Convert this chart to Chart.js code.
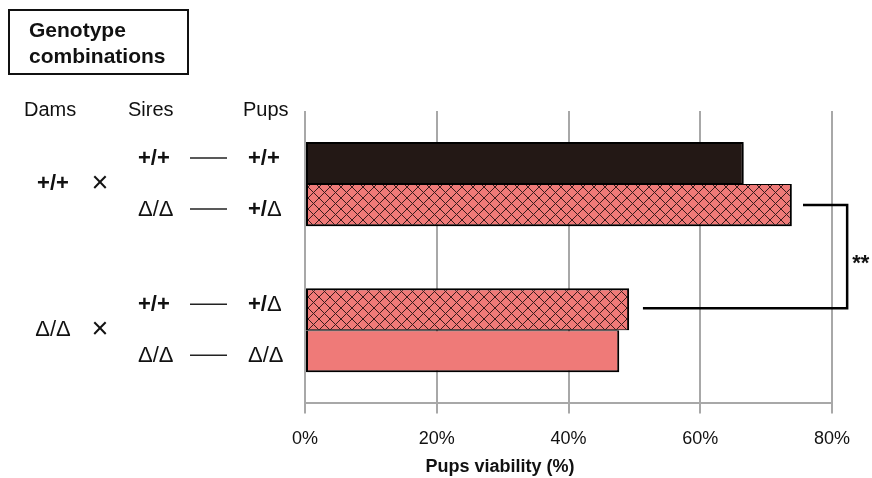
<!DOCTYPE html>
<html>
<head>
<meta charset="utf-8">
<script src="https://cdn.jsdelivr.net/npm/chart.js@4.4.1/dist/chart.umd.min.js"></script>
<style>
  html, body { margin: 0; padding: 0; background: #ffffff; }
  #wrap { width: 872px; height: 478px; position: relative; }
</style>
</head>
<body>
<div id="wrap"><canvas id="chart"></canvas></div>
<script>
// Mating crosses: one category per dam genotype, two sire crosses each
const damGenotypes   = ['+/+', 'Δ/Δ'];
const upperSires     = ['+/+', '+/+'];
const upperPups      = ['+/+', '+/Δ'];
const upperViability = [66.6, 49.2];
const lowerSires     = ['Δ/Δ', 'Δ/Δ'];
const lowerPups      = ['+/Δ', 'Δ/Δ'];
const lowerViability = [73.9, 47.7];
const xTickValues    = [0, 20, 40, 60, 80];
const headers        = ['Dams', 'Sires', 'Pups'];
const boxTitle       = ['Genotype', 'combinations'];
const axisTitle      = 'Pups viability (%)';
const significance   = '**';

const FONT = '"Liberation Sans", Arial, sans-serif';
const PINK = '#EF7A78';
const DARK = '#231815';
const GRID = '#A8A8A8';

// Cross-hatched fill for heterozygous pups
function crossHatch() {
  const s = 11;
  const c = document.createElement('canvas');
  c.width = s; c.height = s;
  const g = c.getContext('2d');
  g.fillStyle = PINK;
  g.fillRect(0, 0, s, s);
  g.strokeStyle = '#3a1c1c';
  g.lineWidth = 1;
  g.beginPath();
  g.moveTo(0, 0); g.lineTo(s, s);
  g.moveTo(0, s); g.lineTo(s, 0);
  g.stroke();
  return g.createPattern(c, 'repeat');
}
const HATCH = crossHatch();

// Writes a genotype with bold "+" signs and regular deltas
function drawGenotype(ctx, text, x, y, align) {
  const boldAll = text.indexOf('+') >= 0;
  const runs = [...text].map(ch => ({
    ch,
    font: (ch === 'Δ' ? '' : (boldAll ? 'bold ' : '')) + '22px ' + FONT
  }));
  let total = 0;
  runs.forEach(r => { ctx.font = r.font; r.w = ctx.measureText(r.ch).width; total += r.w; });
  let cx = align === 'center' ? x - total / 2 : x;
  ctx.textAlign = 'left';
  runs.forEach(r => { ctx.font = r.font; ctx.fillText(r.ch, cx, y); cx += r.w; });
}

const annotations = {
  id: 'annotations',
  beforeDatasetsDraw(chart) {
    const ctx = chart.ctx;
    ctx.save();
    ctx.shadowColor = 'rgba(0,0,0,0.28)';
    ctx.shadowBlur = 3;
    ctx.shadowOffsetX = 1;
    ctx.shadowOffsetY = 1;
  },
  afterDatasetsDraw(chart) {
    chart.ctx.restore();
  },
  afterDraw(chart) {
    const ctx = chart.ctx;
    const xs = chart.scales.x;
    const ys = chart.scales.y;
    const upper = chart.getDatasetMeta(0).data;
    const lower = chart.getDatasetMeta(1).data;
    ctx.save();
    ctx.fillStyle = '#111';

    // Title box
    ctx.strokeStyle = '#111';
    ctx.lineWidth = 2;
    ctx.strokeRect(9, 10, 179, 64);
    ctx.textBaseline = 'alphabetic';
    ctx.font = 'bold 21px ' + FONT;
    ctx.textAlign = 'left';
    ctx.fillText(boxTitle[0], 29, 37);
    ctx.fillText(boxTitle[1], 29, 63);

    // Column headers
    ctx.font = '20px ' + FONT;
    ctx.fillText(headers[0], 24, 116);
    ctx.fillText(headers[1], 128, 116);
    ctx.fillText(headers[2], 243, 116);

    ctx.textBaseline = 'middle';
    damGenotypes.forEach((dam, i) => {
      const gy = ys.getPixelForValue(i);
      drawGenotype(ctx, dam, 53, gy, 'center');
      ctx.font = '29px ' + FONT;
      ctx.textAlign = 'center';
      ctx.fillText('×', 100, gy);

      const rows = [
        [upperSires[i], upperPups[i], upper[i].y - 4],
        [lowerSires[i], lowerPups[i], lower[i].y + 5]
      ];
      rows.forEach(([sire, pup, ry]) => {
        drawGenotype(ctx, sire, 138, ry, 'left');
        drawGenotype(ctx, pup, 248, ry, 'left');
        ctx.strokeStyle = '#222';
        ctx.lineWidth = 1.5;
        ctx.beginPath();
        ctx.moveTo(190, ry - 1);
        ctx.lineTo(227, ry - 1);
        ctx.stroke();
      });
    });

    // Significance bracket between +/+ x Δ/Δ and Δ/Δ x +/+ crosses
    const yTop = lower[0].y;
    const yBot = upper[1].y - 1;
    const xv = xs.getPixelForValue(82.3);
    ctx.strokeStyle = '#000';
    ctx.lineWidth = 2.5;
    ctx.beginPath();
    ctx.moveTo(xs.getPixelForValue(lowerViability[0] + 1.7), yTop);
    ctx.lineTo(xv, yTop);
    ctx.lineTo(xv, yBot);
    ctx.lineTo(xs.getPixelForValue(upperViability[1] + 2.1), yBot);
    ctx.stroke();
    ctx.font = 'bold 22px ' + FONT;
    ctx.textAlign = 'left';
    ctx.textBaseline = 'alphabetic';
    ctx.fillText(significance, xv + 5, (yTop + yBot) / 2 + 13);

    // Axis title
    ctx.font = 'bold 18px ' + FONT;
    ctx.textAlign = 'center';
    ctx.fillText(axisTitle, 500, 472);
    ctx.restore();
  }
};

new Chart(document.getElementById('chart'), {
  type: 'bar',
  data: {
    labels: damGenotypes,
    datasets: [
      {
        data: upperViability,
        backgroundColor: [DARK, HATCH],
        borderColor: '#000',
        borderWidth: { top: 2, left: 2, right: 2, bottom: 1 },
        borderSkipped: false
      },
      {
        data: lowerViability,
        backgroundColor: [HATCH, PINK],
        borderColor: '#000',
        borderWidth: { top: 1, left: 2, right: 2, bottom: 2 },
        borderSkipped: false
      }
    ]
  },
  options: {
    indexAxis: 'y',
    responsive: true,
    maintainAspectRatio: false,
    devicePixelRatio: 1,
    animation: false,
    categoryPercentage: 0.575,
    barPercentage: 1,
    layout: { padding: { left: 305, right: 40, top: 111, bottom: 13 } },
    plugins: { legend: { display: false }, tooltip: { enabled: false } },
    scales: {
      x: {
        min: 0,
        max: 80,
        afterBuildTicks(axis) { axis.ticks = xTickValues.map(v => ({ value: v })); },
        ticks: {
          callback: v => v + '%',
          color: '#111',
          font: { family: FONT, size: 18 },
          padding: 15,
          maxRotation: 0
        },
        grid: { color: GRID, lineWidth: 2, tickLength: 10, drawTicks: true },
        border: { display: true, color: GRID, width: 2 }
      },
      y: { display: false }
    }
  },
  plugins: [annotations]
});
</script>
</body>
</html>
